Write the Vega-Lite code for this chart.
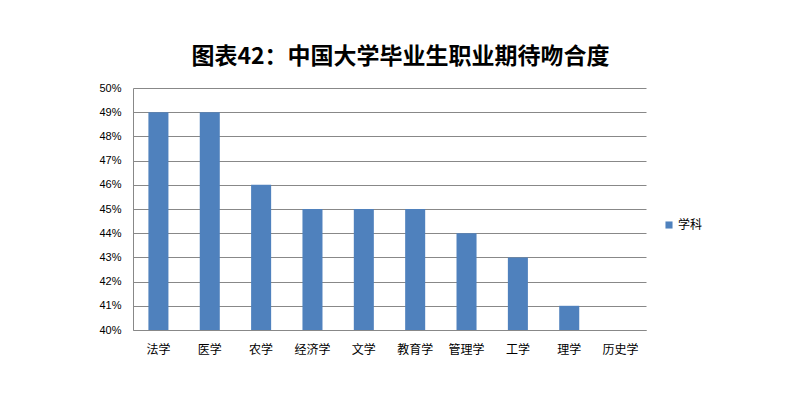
{
  "$schema": "https://vega.github.io/schema/vega-lite/v6.json",
  "autosize": {"type": "none"},
  "width": 513,
  "height": 242,
  "padding": {"left": 133, "top": 88, "right": 154, "bottom": 70},
  "background": "white",
  "title": {
    "text": "图表42：中国大学毕业生职业期待吻合度",
    "font": "Noto Sans CJK SC",
    "fontSize": 23,
    "fontWeight": "bold",
    "color": "#000000",
    "anchor": "middle",
    "frame": "group",
    "dx": 11,
    "offset": 13
  },
  "data": {
    "values": [
      {"category": "法学", "value": 0.49, "series": "学科"},
      {"category": "医学", "value": 0.49, "series": "学科"},
      {"category": "农学", "value": 0.46, "series": "学科"},
      {"category": "经济学", "value": 0.45, "series": "学科"},
      {"category": "文学", "value": 0.45, "series": "学科"},
      {"category": "教育学", "value": 0.45, "series": "学科"},
      {"category": "管理学", "value": 0.44, "series": "学科"},
      {"category": "工学", "value": 0.43, "series": "学科"},
      {"category": "理学", "value": 0.41, "series": "学科"},
      {"category": "历史学", "value": 0.40, "series": "学科"}
    ]
  },
  "mark": {"type": "bar"},
  "encoding": {
    "x": {
      "field": "category",
      "type": "nominal",
      "sort": null,
      "scale": {"paddingInner": 0.61, "paddingOuter": 0.3},
      "axis": {
        "title": null,
        "labelAngle": 0,
        "labelFont": "Noto Sans CJK SC",
        "labelFontSize": 12,
        "labelColor": "#000000",
        "labelPadding": 14,
        "ticks": false,
        "domainColor": "#888888",
        "grid": false
      }
    },
    "y": {
      "field": "value",
      "type": "quantitative",
      "scale": {"domain": [0.40, 0.50], "zero": false, "clamp": true},
      "axis": {
        "title": null,
        "format": ".0%",
        "values": [0.40, 0.41, 0.42, 0.43, 0.44, 0.45, 0.46, 0.47, 0.48, 0.49, 0.50],
        "labelOverlap": false,
        "labelFont": "Liberation Sans",
        "labelFontSize": 11,
        "labelColor": "#000000",
        "labelPadding": 12,
        "ticks": false,
        "domainColor": "#888888",
        "gridColor": "#888888",
        "gridOpacity": 1,
        "gridWidth": 1
      }
    },
    "color": {
      "field": "series",
      "type": "nominal",
      "scale": {"range": ["#4F81BD"]},
      "legend": {
        "title": null,
        "orient": "none",
        "legendX": 530,
        "legendY": 131,
        "symbolType": "square",
        "symbolSize": 50,
        "labelFont": "Noto Sans CJK SC",
        "labelFontSize": 12,
        "labelColor": "#000000",
        "labelOffset": 3
      }
    }
  },
  "config": {
    "view": {"stroke": null}
  }
}
